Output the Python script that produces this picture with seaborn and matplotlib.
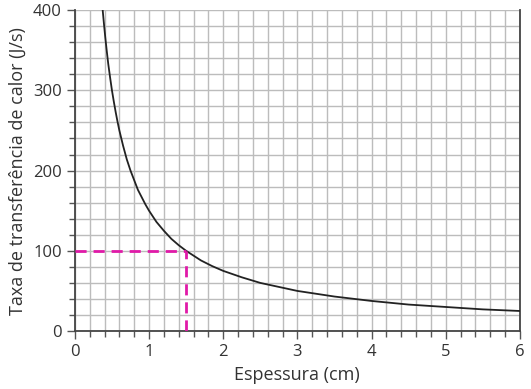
import numpy as np
import matplotlib.pyplot as plt
import seaborn as sns
from matplotlib.ticker import MultipleLocator

# values
espessura = [0.375, 0.39, 0.41, 0.43, 0.45, 0.475, 0.5, 0.525, 0.55, 0.575, 0.6, 0.65,
             0.7, 0.75, 0.8, 0.85, 0.9, 0.95, 1.0, 1.1, 1.2, 1.3, 1.4, 1.5, 1.6, 1.7,
             1.85, 2.0, 2.25, 2.5, 2.75, 3.0, 3.5, 4.0, 4.5, 5.0, 5.5, 6.0]
taxa = [400, 385, 366, 349, 333, 316, 300, 286, 273, 261, 250, 231,
        214, 200, 188, 176, 167, 158, 150, 136, 125, 115, 107, 100, 94, 88,
        81, 75, 67, 60, 55, 50, 43, 37.5, 33, 30, 27, 25]
ref_x = 1.5
ref_y = 100

sns.set_style("white")
plt.rcParams['font.family'] = ['Open Sans', 'DejaVu Sans']
txt = '#333333'

fig = plt.figure(figsize=(5.31, 3.89), dpi=100)
ax = fig.add_axes([0.141, 0.149, 0.838, 0.825])

ax.xaxis.set_major_locator(MultipleLocator(1))
ax.xaxis.set_minor_locator(MultipleLocator(0.2))
ax.yaxis.set_major_locator(MultipleLocator(100))
ax.yaxis.set_minor_locator(MultipleLocator(20))
ax.grid(which='both', color='#bcbcbc', linewidth=1.0)
ax.set_axisbelow(True)

sns.lineplot(x=espessura, y=taxa, ax=ax, color='#222222', linewidth=1.3, zorder=3)
ax.plot([0, ref_x], [ref_y, ref_y], color='#e01aa8', linestyle=(0, (4, 2.5)), linewidth=2, zorder=4)
ax.plot([ref_x, ref_x], [0, ref_y], color='#e01aa8', linestyle=(0, (4, 2.5)), linewidth=2, zorder=4)

ax.set_xlim(0, 6)
ax.set_ylim(0, 400)
for s in ['left', 'bottom', 'right']:
    ax.spines[s].set_color('#444444')
    ax.spines[s].set_linewidth(1.3)
ax.spines['top'].set_visible(False)

ax.tick_params(which='both', direction='out', color='#555555', labelcolor=txt, labelsize=12)
ax.tick_params(which='major', length=6, width=1)
ax.tick_params(which='minor', length=4, width=1)
ax.tick_params(axis='x', which='both', bottom=True)
ax.tick_params(axis='y', which='both', left=True)

ax.set_xlabel('Espessura (cm)', fontsize=13, color=txt)
ax.set_ylabel('Taxa de transferência de calor (J/s)', fontsize=13, color=txt)

fig.savefig('out.png', dpi=100)
